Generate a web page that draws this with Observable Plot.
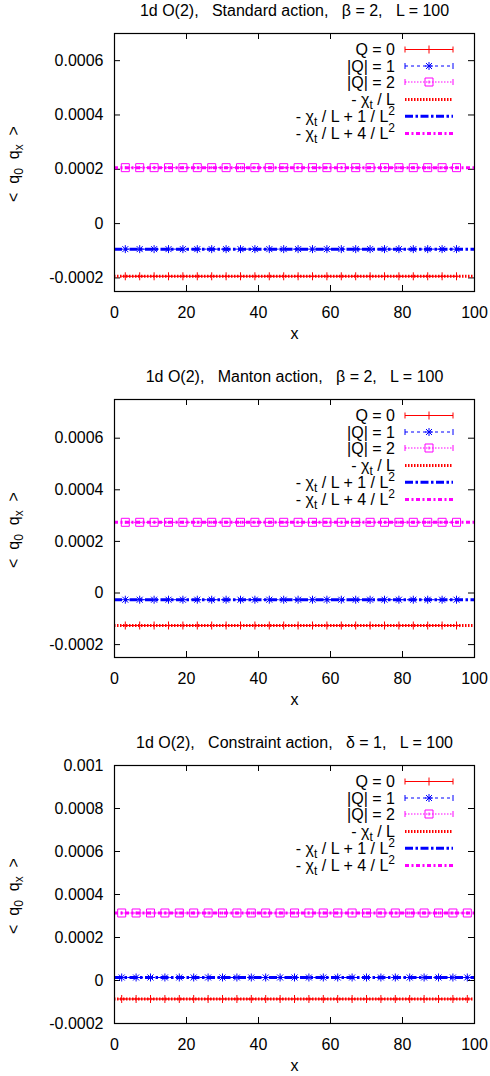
<!DOCTYPE html>
<html>
<head>
<meta charset="utf-8">
<script src="https://cdn.jsdelivr.net/npm/d3@7"></script>
<script src="https://cdn.jsdelivr.net/npm/@observablehq/plot@0.6"></script>
<style>
  html, body { margin: 0; padding: 0; background: #fff; }
  #chart svg { display: block; }
  svg text { white-space: pre; }
</style>
</head>
<body>
<div id="chart"></div>
<script>
// ---------------- data ----------------
const RED = "#ff0000", BLUE = "#0000ff", MAGENTA = "#ff00ff";

const xTicks = [0, 20, 40, 60, 80, 100];
const yTicksAB = [-0.0002, 0, 0.0002, 0.0004, 0.0006];
const yTicksC = [-0.0002, 0, 0.0002, 0.0004, 0.0006, 0.0008, 0.001];

const GAP = "\u00a0\u00a0\u00a0";
const titles = [
  "1d O(2)," + GAP + "Standard action," + GAP + "\u03b2 = 2," + GAP + "L = 100",
  "1d O(2)," + GAP + "Manton action," + GAP + "\u03b2 = 2," + GAP + "L = 100",
  "1d O(2)," + GAP + "Constraint action," + GAP + "\u03b4 = 1," + GAP + "L = 100"
];

// measurement positions shown in the plots
const xPointsAB = [3, 7, 11, 15, 19, 23, 27, 31, 35, 39, 43, 47, 51, 55, 59, 63, 67, 71, 75, 79, 83, 87, 91, 95];
const xPointsC = [2, 6, 10, 14, 18, 22, 26, 30, 34, 38, 42, 46, 50, 54, 58, 62, 66, 70, 74, 78, 82, 86, 90, 94, 98];

// Standard action
const stdQ0 = [-0.000194, -0.000194, -0.000194, -0.000194, -0.000194, -0.000194, -0.000194, -0.000194, -0.000194, -0.000194, -0.000194, -0.000194, -0.000194, -0.000194, -0.000194, -0.000194, -0.000194, -0.000194, -0.000194, -0.000194, -0.000194, -0.000194, -0.000194, -0.000194];
const stdQ1 = [-0.000094, -0.000094, -0.000094, -0.000094, -0.000094, -0.000094, -0.000094, -0.000094, -0.000094, -0.000094, -0.000094, -0.000094, -0.000094, -0.000094, -0.000094, -0.000094, -0.000094, -0.000094, -0.000094, -0.000094, -0.000094, -0.000094, -0.000094, -0.000094];
const stdQ2 = [0.000206, 0.000206, 0.000206, 0.000206, 0.000206, 0.000206, 0.000206, 0.000206, 0.000206, 0.000206, 0.000206, 0.000206, 0.000206, 0.000206, 0.000206, 0.000206, 0.000206, 0.000206, 0.000206, 0.000206, 0.000206, 0.000206, 0.000206, 0.000206];
const stdCurves = [-0.000194, -0.000094, 0.000206];

// Manton action
const manQ0 = [-0.000126, -0.000126, -0.000126, -0.000126, -0.000126, -0.000126, -0.000126, -0.000126, -0.000126, -0.000126, -0.000126, -0.000126, -0.000126, -0.000126, -0.000126, -0.000126, -0.000126, -0.000126, -0.000126, -0.000126, -0.000126, -0.000126, -0.000126, -0.000126];
const manQ1 = [-0.000026, -0.000026, -0.000026, -0.000026, -0.000026, -0.000026, -0.000026, -0.000026, -0.000026, -0.000026, -0.000026, -0.000026, -0.000026, -0.000026, -0.000026, -0.000026, -0.000026, -0.000026, -0.000026, -0.000026, -0.000026, -0.000026, -0.000026, -0.000026];
const manQ2 = [0.000274, 0.000274, 0.000274, 0.000274, 0.000274, 0.000274, 0.000274, 0.000274, 0.000274, 0.000274, 0.000274, 0.000274, 0.000274, 0.000274, 0.000274, 0.000274, 0.000274, 0.000274, 0.000274, 0.000274, 0.000274, 0.000274, 0.000274, 0.000274];
const manCurves = [-0.000126, -0.000026, 0.000274];

// Constraint action
const conQ0 = [-0.000086, -0.000086, -0.000086, -0.000086, -0.000086, -0.000086, -0.000086, -0.000086, -0.000086, -0.000086, -0.000086, -0.000086, -0.000086, -0.000086, -0.000086, -0.000086, -0.000086, -0.000086, -0.000086, -0.000086, -0.000086, -0.000086, -0.000086, -0.000086, -0.000086];
const conQ1 = [0.000014, 0.000014, 0.000014, 0.000014, 0.000014, 0.000014, 0.000014, 0.000014, 0.000014, 0.000014, 0.000014, 0.000014, 0.000014, 0.000014, 0.000014, 0.000014, 0.000014, 0.000014, 0.000014, 0.000014, 0.000014, 0.000014, 0.000014, 0.000014, 0.000014];
const conQ2 = [0.000314, 0.000314, 0.000314, 0.000314, 0.000314, 0.000314, 0.000314, 0.000314, 0.000314, 0.000314, 0.000314, 0.000314, 0.000314, 0.000314, 0.000314, 0.000314, 0.000314, 0.000314, 0.000314, 0.000314, 0.000314, 0.000314, 0.000314, 0.000314, 0.000314];
const conCurves = [-0.000086, 0.000014, 0.000314];

// legend labels: [text, kind]
const legendLabels = [
  [["Q = 0", ""]],
  [["|Q| = 1", ""]],
  [["|Q| = 2", ""]],
  [["- \u03c7", ""], ["t", "sub"], [" / L", ""]],
  [["- \u03c7", ""], ["t", "sub"], [" / L + 1 / L", ""], ["2", "sup"]],
  [["- \u03c7", ""], ["t", "sub"], [" / L + 4 / L", ""], ["2", "sup"]]
];
const yLabelParts = [["<  q", ""], ["0", "sub"], ["  q", ""], ["x", "sub"], ["  >", ""]];

// ---------------- styling / helpers ----------------
const FONT = "'Liberation Sans', Arial, Helvetica, sans-serif";
const plusSym = {draw(ctx, size) { const r = Math.sqrt(size / Math.PI);
  ctx.moveTo(-r, 0); ctx.lineTo(r, 0); ctx.moveTo(0, -r); ctx.lineTo(0, r); }};
const starSym = {draw(ctx, size) { const r = Math.sqrt(size / Math.PI), d = r * 0.75;
  ctx.moveTo(-r, 0); ctx.lineTo(r, 0); ctx.moveTo(0, -r); ctx.lineTo(0, r);
  ctx.moveTo(-d, -d); ctx.lineTo(d, d); ctx.moveTo(-d, d); ctx.lineTo(d, -d); }};
const boxSym = {draw(ctx, size) { const r = Math.sqrt(size / Math.PI);
  ctx.moveTo(-r, -r); ctx.lineTo(r, -r); ctx.lineTo(r, r); ctx.lineTo(-r, r); ctx.closePath();
  ctx.moveTo(0, -1.5); ctx.lineTo(0, 1.5); }};

const dataStyles = [
  {color: RED, dash: null, sym: plusSym},
  {color: BLUE, dash: "3,3", sym: starSym},
  {color: MAGENTA, dash: "1.5,1.5", sym: boxSym}
];
const curveStyles = [
  {color: RED, dash: "1.5,1.5"},
  {color: BLUE, dash: "8,2.5,2.5,2.5"},
  {color: MAGENTA, dash: "4,2.5,2,2.5"}
];
const fmt = d => String(parseFloat(d.toFixed(4)));

function addParts(textSel, parts) {
  let cur = 0;
  parts.forEach(([s, kind]) => {
    const target = kind === "sub" ? 4 : kind === "sup" ? -7 : 0;
    const ts = textSel.append("tspan").text(s).attr("dy", target - cur);
    if (kind) ts.attr("font-size", 12);
    cur = target;
  });
}

function makePanel(p) {
  const W = 490, mL = 114, mR = 16, mT = 33, frameH = 258, frameW = W - mL - mR;
  const height = mT + frameH + p.marginBottom;
  const series = [p.q0, p.q1, p.q2].map(ys => p.xs.map((x, i) => ({x, y: ys[i]})));
  const marks = [
    Plot.axisX(xTicks, {tickSize: 0, tickPadding: 15, label: null, tickFormat: d => String(d)}),
    Plot.axisY(p.yTicks, {tickSize: 0, tickPadding: 11, label: null, tickFormat: fmt}),
    Plot.tickX(xTicks, {x: d => d, insetTop: frameH - 6, stroke: "#000"}),
    Plot.tickX(xTicks, {x: d => d, insetBottom: frameH - 6, stroke: "#000"}),
    Plot.tickY(p.yTicks, {y: d => d, insetRight: frameW - 6, stroke: "#000"}),
    Plot.tickY(p.yTicks, {y: d => d, insetLeft: frameW - 6, stroke: "#000"})
  ];
  series.forEach((s, i) => {
    const st = dataStyles[i];
    marks.push(Plot.line(s, {x: "x", y: "y", stroke: st.color, strokeWidth: 1, strokeDasharray: st.dash}));
    marks.push(Plot.dot(s, {x: "x", y: "y", symbol: st.sym, r: 4, stroke: st.color, fill: "none", strokeWidth: 1}));
  });
  p.curves.forEach((v, i) => {
    const st = curveStyles[i];
    marks.push(Plot.ruleY([v], {y: d => d, stroke: st.color, strokeWidth: 3, strokeDasharray: st.dash}));
  });
  marks.push(Plot.frame({stroke: "#000", strokeWidth: 1.2}));
  marks.push(Plot.text([p.title], {text: d => d, frameAnchor: "top", dy: -23, lineAnchor: "middle", fill: "#000"}));
  marks.push(Plot.text(["x"], {text: d => d, frameAnchor: "bottom", dy: 42, lineAnchor: "middle", fill: "#000"}));

  const chart = Plot.plot({
    width: W, height, marginLeft: mL, marginRight: mR, marginTop: mT, marginBottom: p.marginBottom,
    style: {fontFamily: FONT, fontSize: "16px", color: "#000", background: "#fff", overflow: "visible"},
    x: {domain: [0, 100]},
    y: {domain: p.yDomain},
    marks
  });

  // legend + y label
  const svg = d3.select(chart);
  const sx = chart.scale("x"), sy = chart.scale("y");
  const right = sx.apply(100), top = sy.apply(p.yDomain[1]), bottom = sy.apply(p.yDomain[0]);
  const g = svg.append("g").attr("font-family", FONT).attr("font-size", 16).attr("fill", "#000");
  const rowOff = [16.5, 33, 49, 66.5, 83.3, 100.5];
  const tx = right - 79, lx1 = right - 69, lx2 = right - 21, lxm = (lx1 + lx2) / 2;
  legendLabels.forEach((parts, i) => {
    const y = top + rowOff[i];
    const t = g.append("text").attr("x", tx).attr("y", y + 5.7).attr("text-anchor", "end");
    addParts(t, parts);
    if (i < 3) {
      const st = dataStyles[i];
      g.append("line").attr("x1", lx1).attr("x2", lx2).attr("y1", y).attr("y2", y)
        .attr("stroke", st.color).attr("stroke-width", 1).attr("stroke-dasharray", st.dash);
      [lx1, lx2].forEach(x => g.append("line").attr("x1", x).attr("x2", x).attr("y1", y - 3).attr("y2", y + 3)
        .attr("stroke", st.color).attr("stroke-width", 1));
      g.append("path").attr("transform", `translate(${lxm},${y})`)
        .attr("d", d3.symbol(st.sym, Math.PI * 16)()).attr("fill", "none").attr("stroke", st.color);
    } else {
      const st = curveStyles[i - 3];
      g.append("line").attr("x1", lx1).attr("x2", lx2).attr("y1", y).attr("y2", y)
        .attr("stroke", st.color).attr("stroke-width", 3).attr("stroke-dasharray", st.dash);
    }
  });
  const yl = g.append("text").attr("text-anchor", "middle")
    .attr("transform", `translate(19,${(top + bottom) / 2 + 2}) rotate(-90)`);
  addParts(yl, yLabelParts);
  return chart;
}

const panels = [
  {title: titles[0], xs: xPointsAB, q0: stdQ0, q1: stdQ1, q2: stdQ2, curves: stdCurves,
   yDomain: [-0.00025, 0.0007], yTicks: yTicksAB, marginBottom: 75},
  {title: titles[1], xs: xPointsAB, q0: manQ0, q1: manQ1, q2: manQ2, curves: manCurves,
   yDomain: [-0.00025, 0.00075], yTicks: yTicksAB, marginBottom: 75},
  {title: titles[2], xs: xPointsC, q0: conQ0, q1: conQ1, q2: conQ2, curves: conCurves,
   yDomain: [-0.0002, 0.001], yTicks: yTicksC, marginBottom: 53}
];
const root = document.getElementById("chart");
panels.forEach(p => root.appendChild(makePanel(p)));
</script>
</body>
</html>
